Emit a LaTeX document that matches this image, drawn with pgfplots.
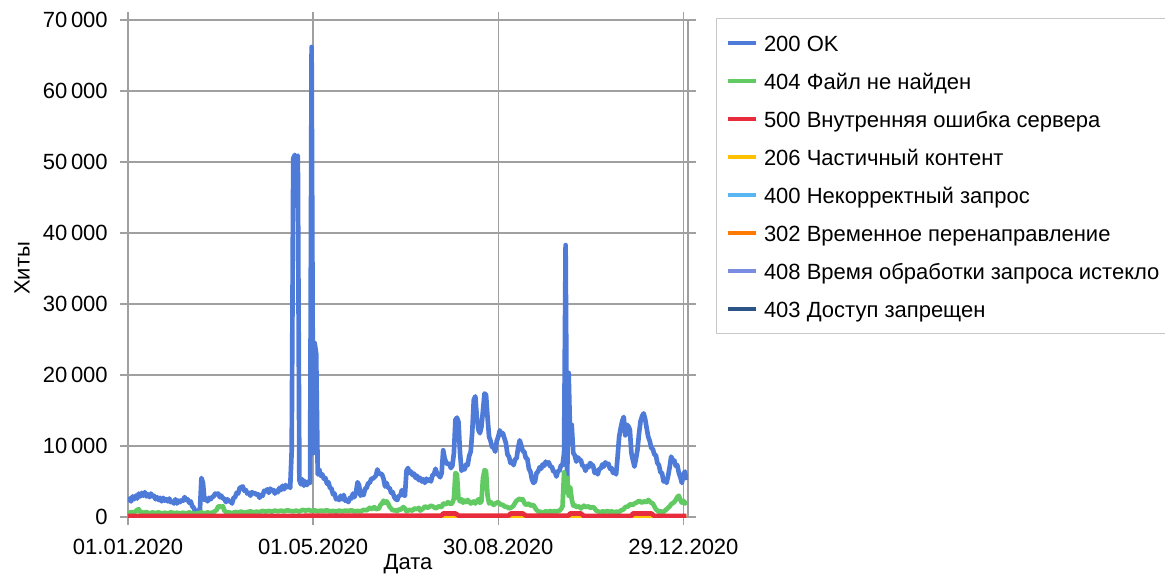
\documentclass[border=0pt]{standalone}
\usepackage{pgfplots}
\pgfplotsset{compat=1.18}
\usepackage{fontspec}
\setmainfont{Liberation Sans}
\definecolor{c200}{RGB}{78,122,216}
\definecolor{c404}{RGB}{98,202,98}
\definecolor{c500}{RGB}{232,44,60}
\definecolor{c206}{RGB}{255,192,0}
\definecolor{c400}{RGB}{90,182,240}
\definecolor{c302}{RGB}{255,122,0}
\definecolor{c408}{RGB}{122,140,226}
\definecolor{c403}{RGB}{44,84,134}
\definecolor{gridgray}{RGB}{160,160,160}
\definecolor{legendgray}{RGB}{200,200,200}
\begin{document}
\fontsize{16.5}{19.8}\selectfont
\begin{tikzpicture}
\useasboundingbox (-96pt,-44.25pt) rectangle (777.75pt,387.75pt);
\begin{axis}[
  at={(0,0)}, anchor=south west, scale only axis,
  width=420pt, height=372.75pt,
  xmin=0, xmax=366, ymin=0, ymax=70000,
  xtick={0,121,242,363},
  xticklabels={01.01.2020,01.05.2020,30.08.2020,29.12.2020},
  ytick={0,10000,20000,30000,40000,50000,60000,70000},
  scaled y ticks=false,
  /pgf/number format/1000 sep={\,},
  /pgf/number format/assume math mode=true,
  grid=major,
  major grid style={gridgray, line width=1.1pt},
  axis line style={gridgray, line width=1.1pt},
  tick style={gridgray, line width=1.1pt},
  tick align=outside, major tick length=6pt,
  xticklabel style={anchor=base, inner sep=0pt, yshift=-22pt},
  yticklabel style={anchor=east, inner sep=0pt, xshift=-9pt},
  xlabel={Дата}, ylabel={Хиты},
  xlabel style={at={(axis description cs:0.5,-0.1066)}, anchor=base, inner sep=0pt},
  ylabel style={at={(axis description cs:-0.1893,0.5)}, anchor=center, inner sep=0pt},
  legend cell align=left,
  legend image code/.code={\draw[#1, line width=3pt] (0pt,0pt) -- (21pt,0pt);},
  legend style={at={(axis description cs:1.05,1.004)}, anchor=north west,
    draw=legendgray, line width=1pt, inner xsep=7pt, inner ysep=8.25pt,
    row sep=8.5pt, column sep=4.5pt,
    nodes={inner sep=0pt, text height=16.5pt, text depth=3.5pt}},
  every axis plot/.append style={line width=3.5pt, line join=round},
]
\addlegendimage{c200}\addlegendentry{200 OK}
\addlegendimage{c404}\addlegendentry{404 Файл не найден}
\addlegendimage{c500}\addlegendentry{500 Внутренняя ошибка сервера}
\addlegendimage{c206}\addlegendentry{206 Частичный контент}
\addlegendimage{c400}\addlegendentry{400 Некорректный запрос}
\addlegendimage{c302}\addlegendentry{302 Временное перенаправление}
\addlegendimage{c408}\addlegendentry{408 Время обработки запроса истекло}
\addlegendimage{c403}\addlegendentry{403 Доступ запрещен}

% 200 OK
\addplot[c200, forget plot] coordinates {
(0,2100)(1,2600)(2,2200)(3,2900)(4,2500)(5,3000)(6,2600)(7,3300)(8,2900)(9,3400)(10,3000)(11,3500)(12,2900)(13,3200)(14,2800)(15,3300)(16,2900)(17,3000)(18,2500)(19,2800)(20,2400)(21,2700)(22,2200)(23,2700)(24,2300)(25,2500)(26,2200)(27,2600)(28,2100)(29,2200)(30,1900)(31,2500)(32,1900)(33,2300)(34,2100)(35,2400)(36,2300)(37,2800)(38,2400)(39,2500)(40,2000)(41,2200)(42,1500)(43,1300)(44,600)(45,900)(46,500)(47,900)(48,5500)(49,4800)(50,2400)(51,2600)(52,2200)(53,2700)(54,2500)(55,2800)(56,2900)(57,3300)(58,3200)(59,3300)(60,2800)(61,3000)(62,2600)(63,2600)(64,2100)(65,2500)(66,2200)(67,2200)(68,1900)(69,2700)(70,2800)(71,3400)(72,3300)(73,4100)(74,4200)(75,4300)(76,3700)(77,3800)(78,3300)(79,3400)(80,3000)(81,3500)(82,3300)(83,3400)(84,3100)(85,3200)(86,2700)(87,3100)(88,3000)(89,3700)(90,3600)(91,3900)(92,3400)(93,4000)(94,3700)(95,3800)(96,3300)(97,3700)(98,3500)(99,4100)(100,3800)(101,4400)(102,3900)(103,4500)(104,4200)(105,4400)(106,4100)
(107,9400)(108,50500)(109,51000)(110,50400)(111,50900)(112,5200)(113,4600)(114,5300)(115,4400)(116,5000)(117,4500)(118,5000)(119,4800)(120,66200)(121,9000)(122,24500)(123,23000)(124,6000)(125,6700)(126,5800)(127,6000)(128,5400)(129,5500)(130,4700)(131,4900)(132,4100)(133,4000)(134,3200)(135,3300)(136,2500)(137,2600)(138,2400)(139,3000)(140,2500)(141,3100)(142,2300)(143,2400)(144,2100)(145,2700)(146,2600)(147,3300)(148,2800)(149,3400)(150,4900)(151,4500)(152,3000)(153,3200)(154,3100)(155,4000)(156,4100)(157,4800)(158,4800)(159,5400)(160,5400)(161,5600)(162,5800)(163,6700)(164,6100)(165,6100)(166,6000)(167,5400)(168,4300)(169,4800)(170,4100)(171,4100)(172,3400)(173,3500)(174,2800)(175,2500)(176,2400)(177,3000)(178,3000)(179,3800)(180,3100)(181,3000)(182,6500)(183,6900)(184,6200)(185,6400)(186,5900)(187,6100)(188,5500)(189,5800)(190,5200)(191,5500)(192,5000)(193,5300)(194,4800)(195,5400)(196,5100)(197,5300)(198,5000)(199,5900)(200,6000)(201,6800)(202,6100)(203,5900)(204,5600)(205,6200)(206,9400)(207,8200)(208,7700)(209,7400)(210,7500)(211,6900)(212,7200)(213,9000)(214,13700)(215,14000)(216,13400)(217,9000)(218,6500)(219,7000)(220,6700)(221,7400)(222,7300)(223,8600)(224,9200)(225,12000)(226,16500)(227,17000)(228,14000)(229,12300)(230,11800)(231,12700)(232,15000)(233,17400)(234,17200)(235,14000)(236,11300)(237,10700)(238,9800)(239,9800)(240,9200)(241,10700)(242,11300)(243,12200)(244,11600)(245,11800)(246,11100)(247,10400)(248,8800)(249,8500)(250,7600)(251,7800)(252,7300)(253,8100)(254,8300)(255,9800)(256,10800)(257,10100)(258,9300)(259,9200)(260,8300)(261,8200)(262,6800)(263,6400)(264,5300)(265,4800)(266,5000)(267,6200)(268,6400)(269,7000)(270,6800)(271,7400)(272,7200)(273,7800)(274,7500)(275,7700)(276,7100)(277,7100)(278,6400)(279,6400)(280,5700)(281,6500)(282,6500)(283,7300)(284,7300)(285,9000)(286,38300)(287,4500)(288,20300)(289,11000)(290,13000)(291,9000)(292,8700)(293,7800)(294,8400)(295,8100)(296,8000)(297,7200)(298,7200)(299,6500)(300,7200)(301,7000)(302,7600)(303,7400)(304,7200)(305,6200)(306,6500)(307,6000)(308,6800)(309,6800)(310,7400)(311,7100)(312,7700)(313,7400)(314,7500)(315,6800)(316,6900)(317,6200)(318,6500)(319,6000)(320,8500)(321,11300)(322,12500)(323,13500)(324,14100)(325,11500)(326,13000)(327,12800)(328,12300)(329,9000)(330,8000)(331,7100)(332,8200)(333,9500)(334,11800)(335,13500)(336,14200)(337,14600)(338,13800)(339,12500)(340,11300)(341,10700)(342,9700)(343,9600)(344,8800)(345,8700)(346,7600)(347,7300)(348,6300)(349,6200)(350,5000)(351,5300)(352,4800)(353,5800)(354,7000)(355,8500)(356,8000)(357,8000)(358,7200)(359,7300)(360,6200)(361,5600)(362,4800)(363,6000)(364,6400)(365,5200)
};
% zero-level series
\addplot[c403, forget plot] coordinates {(0,0)(365,0)};
\addplot[c408, forget plot] coordinates {(0,0)(365,0)};
\addplot[c302, forget plot] coordinates {(0,0)(365,0)};
\addplot[c400, forget plot] coordinates {(0,0)(365,0)};
\addplot[c206, forget plot] coordinates {(0,0)(240,0)(241,30)(345,30)(346,0)(365,0)};
% 404
\addplot[c404, forget plot] coordinates {
(0,500)(2,700)(4,600)(6,1000)(7,1100)(8,700)(10,600)(12,700)(14,500)(16,650)(18,550)(20,650)(22,500)(24,600)(26,500)(28,650)(30,550)(32,600)(34,500)(36,600)(38,500)(40,650)(42,500)(44,450)(46,550)(48,650)(50,500)(52,650)(54,550)(56,700)(58,1000)(59,1500)(60,1500)(61,1400)(62,1500)(63,900)(64,700)(66,650)(68,550)(70,700)(72,650)(74,750)(76,600)(78,700)(80,800)(82,650)(84,750)(86,700)(88,850)(90,750)(92,850)(94,750)(96,900)(98,800)(100,900)(102,800)(104,950)(106,850)(108,800)(110,900)(112,750)(114,1000)(116,900)(118,1000)(120,850)(122,950)(124,800)(126,900)(128,850)(130,950)(132,800)(134,850)(136,750)(138,900)(140,800)(142,900)(144,850)(146,950)(148,800)(150,850)(152,800)(154,1000)(156,950)(158,1300)(159,1100)(161,1400)(162,1100)(164,1200)(165,1700)(166,1900)(167,2300)(168,2000)(169,2200)(170,1900)(171,1400)(172,1200)(173,900)(174,1000)(176,800)(177,1100)(178,1000)(180,1400)(181,1200)(182,800)(184,1000)(186,900)(187,1200)(189,1100)(190,1300)(191,900)(193,1200)(194,1500)(196,1300)(198,1600)(200,1400)(201,1200)(203,1500)(205,1400)(206,1900)(208,1800)(209,2100)(211,1800)(212,2000)(213,2600)(214,6200)(215,6000)(216,2600)(217,2200)(218,2500)(219,2000)(220,2300)(221,2100)(222,2400)(224,1900)(226,2200)(227,1900)(229,2500)(230,2000)(231,2200)(232,5500)(233,6600)(234,6500)(235,3000)(236,1900)(237,2100)(239,1700)(240,1900)(242,2100)(243,1800)(245,1700)(246,1500)(248,1400)(249,1200)(251,1400)(252,1600)(253,2000)(254,2300)(256,2600)(257,2400)(258,2500)(259,2000)(260,1700)(262,1900)(263,1600)(265,1700)(266,1300)(267,1000)(268,800)(270,700)(271,600)(273,800)(274,700)(276,850)(277,700)(279,850)(280,750)(282,900)(283,1100)(284,1500)(285,6300)(286,3500)(287,5500)(288,3000)(289,4200)(290,2500)(291,1600)(292,1700)(293,1400)(295,1500)(296,1200)(298,1600)(299,1400)(301,1500)(302,1300)(304,1400)(305,1200)(306,900)(307,800)(309,650)(310,800)(312,700)(313,850)(315,700)(316,800)(318,650)(319,750)(321,700)(322,900)(324,1100)(325,1400)(327,1500)(328,1800)(330,1700)(331,1900)(333,2100)(334,2300)(336,2000)(337,2200)(339,2100)(340,2400)(342,2000)(343,1900)(344,1500)(345,1100)(347,700)(348,800)(350,700)(351,900)(352,1100)(354,1500)(355,1800)(357,2100)(358,2400)(359,2800)(360,3000)(361,2400)(362,2000)(363,2300)(364,1900)(365,2300)
};
% 500
\addplot[c500, forget plot] coordinates {
(0,150)(100,150)(150,200)(205,200)(206,500)(214,500)(216,200)(249,200)(250,500)(258,500)(260,200)(288,200)(289,500)(296,500)(298,150)(329,150)(330,500)(342,500)(344,150)(365,150)
};
\end{axis}
\end{tikzpicture}
\end{document}
